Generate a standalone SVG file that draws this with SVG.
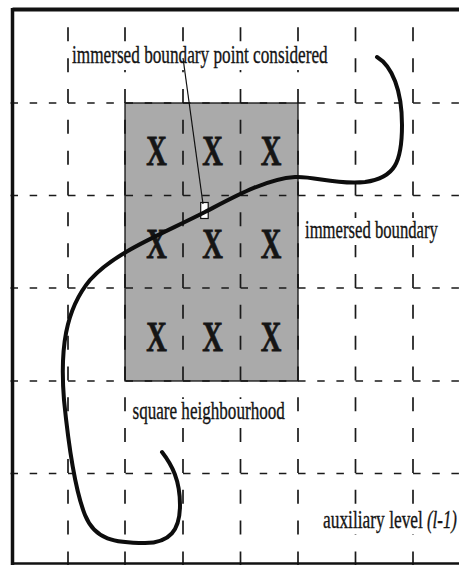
<svg xmlns="http://www.w3.org/2000/svg" width="459" height="565" viewBox="0 0 459 565">
  <style>
    .vgrid { fill: none; stroke: #1a1a1a; stroke-width: 1.7; stroke-dasharray: 14 16.83; stroke-dashoffset: 14; }
    .hgrid { fill: none; stroke: #1a1a1a; stroke-width: 1.6; stroke-dasharray: 7.5 11.67; }
    .lbl { font-family: "Liberation Serif", "Times New Roman", serif; font-size: 24.5px; fill: #141414; stroke: #141414; stroke-width: 0.35; }
    .knock { fill: #ffffff; }
    .xm { font-family: "Liberation Serif", "Times New Roman", serif; font-weight: bold; font-size: 42px; fill: #151515; stroke: #151515; stroke-width: 0.8; text-anchor: middle; }
  </style>
  <rect x="0" y="0" width="459" height="565" fill="#ffffff"/>

  <!-- square neighbourhood (gray region) -->
  <g id="neighbourhood-fill">
    <rect x="125" y="103" width="173" height="278" fill="#aaaaaa"/>
  </g>

  <!-- auxiliary grid -->
  <g id="grid">
    <path class="vgrid" d="M68 10.5V565M125 10.5V565M183 10.5V565M240.5 10.5V565M298 10.5V565M355.5 10.5V565M413 10.5V565"/>
    <path class="hgrid" d="M10.5 103H459M10.5 195.5H459M10.5 288H459M10.5 381H459M10.5 473.5H459"/>
  </g>

  <g id="neighbourhood">
    <rect x="125" y="103" width="173" height="278" fill="none" stroke="#111" stroke-width="1.3"/>
  </g>

  <!-- frame -->
  <g id="frame" fill="none" stroke="#111">
    <path d="M12.5 9.5H459" stroke-width="4"/>
    <path d="M12.5 8V565" stroke-width="3.5"/>
    <path d="M11 563.5H459" stroke-width="2.5"/>
  </g>

  <!-- X marks -->
  <g id="cells">
    <g id="x11"><text class="xm" transform="translate(156.5 165) scale(0.68 1)">X</text></g>
    <g id="x12"><text class="xm" transform="translate(212.5 165) scale(0.68 1)">X</text></g>
    <g id="x13"><text class="xm" transform="translate(271 165) scale(0.68 1)">X</text></g>
    <g id="x21"><text class="xm" transform="translate(156.5 258) scale(0.68 1)">X</text></g>
    <g id="x22"><text class="xm" transform="translate(212.5 258) scale(0.68 1)">X</text></g>
    <g id="x23"><text class="xm" transform="translate(271 258) scale(0.68 1)">X</text></g>
    <g id="x31"><text class="xm" transform="translate(156.5 351) scale(0.68 1)">X</text></g>
    <g id="x32"><text class="xm" transform="translate(212.5 351) scale(0.68 1)">X</text></g>
    <g id="x33"><text class="xm" transform="translate(271 351) scale(0.68 1)">X</text></g>
  </g>

  <!-- labels -->
  <g id="label-point">
    <rect class="knock" x="71" y="44" width="259" height="26"/>
    <text class="lbl" transform="translate(72 63) scale(0.703 1)">immersed boundary point considered</text>
  </g>
  <g id="label-boundary">
    <rect class="knock" x="303" y="218" width="140" height="27"/>
    <text class="lbl" transform="translate(305 238) scale(0.681 1)">immersed boundary</text>
  </g>
  <g id="label-neighbourhood">
    <rect class="knock" x="131" y="399" width="157" height="27"/>
    <text class="lbl" transform="translate(132.5 419) scale(0.698 1)">square heighbourhood</text>
  </g>
  <g id="label-level">
    <rect class="knock" x="321" y="508" width="138" height="26"/>
    <text class="lbl" transform="translate(323 528) scale(0.71 1)">auxiliary level</text>
    <text class="lbl" transform="translate(427 528) scale(0.689 1)" font-style="italic">(l-1)</text>
  </g>

  <!-- boundary point marker -->
  <g id="point">
    <rect x="200.7" y="202.5" width="7.5" height="16" fill="#ffffff" stroke="#111" stroke-width="1.2"/>
  </g>

  <!-- connectors -->
  <g id="connectors">
    <path id="pointer" d="M183 58L203 204" fill="none" stroke="#111" stroke-width="1.2"/>
    <path id="immersed-boundary" d="M377 57C392 66 402 90 402 125C402 162 395 178 365 182C335 185 315 176 295 177C265 179 232 198 205 212C160 235 115 252 90 280C65 310 60 350 64 400C68 440 75 490 85 515C95 540 115 543 145 543C170 543 180 530 180 505C180 480 172 465 162 452" fill="none" stroke="#0d0d0d" stroke-width="4" stroke-linecap="round" stroke-linejoin="round"/>
  </g>
</svg>
